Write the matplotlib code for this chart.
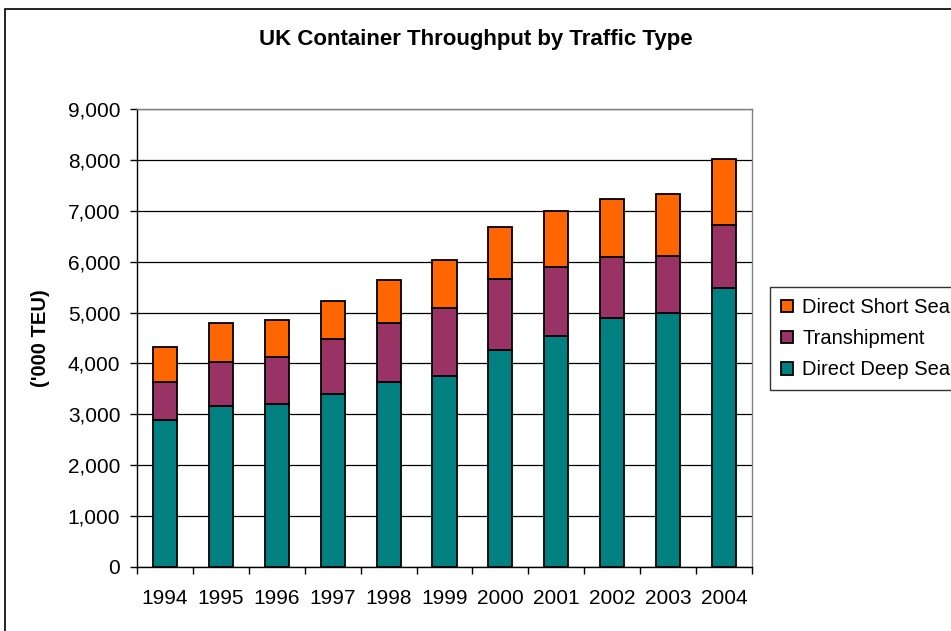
import numpy as np
import matplotlib.pyplot as plt
from matplotlib.patches import Rectangle

plt.rcParams['font.family'] = ['Liberation Sans', 'DejaVu Sans']

# Throughput ('000 TEU) by year and traffic type
years = ['1994', '1995', '1996', '1997', '1998', '1999',
         '2000', '2001', '2002', '2003', '2004']
deep_sea = [2890, 3160, 3200, 3400, 3630, 3750, 4260, 4530, 4890, 5000, 5490]
transhipment = [740, 870, 930, 1090, 1170, 1340, 1400, 1360, 1200, 1120, 1240]
short_sea = [700, 770, 730, 740, 830, 940, 1030, 1100, 1140, 1210, 1290]

teal = '#008080'
plum = '#993366'
orange = '#FF6600'

fig = plt.figure(figsize=(9.51, 6.31), dpi=100)
ax = fig.add_axes([137 / 951, 1 - 567 / 631, 615 / 951, 458 / 631])

x = np.arange(len(years))
w = 0.43
edge = dict(edgecolor='black', linewidth=1.3, zorder=3)
b1 = ax.bar(x, deep_sea, w, color=teal, label='Direct Deep Sea', **edge)
b2 = ax.bar(x, transhipment, w, bottom=deep_sea, color=plum,
            label='Transhipment', **edge)
base2 = np.array(deep_sea) + np.array(transhipment)
b3 = ax.bar(x, short_sea, w, bottom=base2, color=orange,
            label='Direct Short Sea', **edge)

ax.set_xlim(-0.5, len(years) - 0.5)
ax.set_ylim(0, 9000)
ax.set_yticks(np.arange(0, 9001, 1000))
ax.set_yticklabels([f'{v:,}' for v in range(0, 9001, 1000)])
ax.yaxis.grid(True, color='black', linewidth=0.9)
ax.set_axisbelow(True)

ax.set_xticks(x)
ax.set_xticklabels(years)
ax.set_xticks(np.arange(-0.5, len(years), 1), minor=True)
ax.tick_params(axis='x', which='major', length=0, pad=16, labelsize=15)
ax.tick_params(axis='x', which='minor', length=5, width=1, direction='out')
ax.tick_params(axis='y', length=5, width=1, direction='out', pad=7,
               labelsize=15)

for side in ['left', 'bottom']:
    ax.spines[side].set_color('black')
    ax.spines[side].set_linewidth(1)
for side in ['right', 'top']:
    ax.spines[side].set_color('#808080')
    ax.spines[side].set_linewidth(1)

ax.set_ylabel("('000 TEU)", fontsize=14.5, fontweight='bold', labelpad=13)
fig.text(0.5, 1 - 40 / 631, 'UK Container Throughput by Traffic Type',
         ha='center', va='center', fontsize=16, fontweight='bold')

leg = fig.legend(handles=[b3, b2, b1], loc='upper left',
                 bbox_to_anchor=(770 / 951, 1 - 287 / 631),
                 bbox_transform=fig.transFigure, borderaxespad=0,
                 fontsize=14.5, fancybox=False, frameon=True,
                 handlelength=0.6, handleheight=0.6, handletextpad=0.45,
                 labelspacing=0.6, borderpad=0.55)
leg.get_frame().set_edgecolor('black')
leg.get_frame().set_linewidth(1)

# outer chart border
fig.patches.append(Rectangle((5 / 951, -0.1), 1.2, 1.1 - 9 / 631,
                             transform=fig.transFigure, fill=False,
                             edgecolor='black', linewidth=1.2))

fig.savefig('out.png', dpi=100)
